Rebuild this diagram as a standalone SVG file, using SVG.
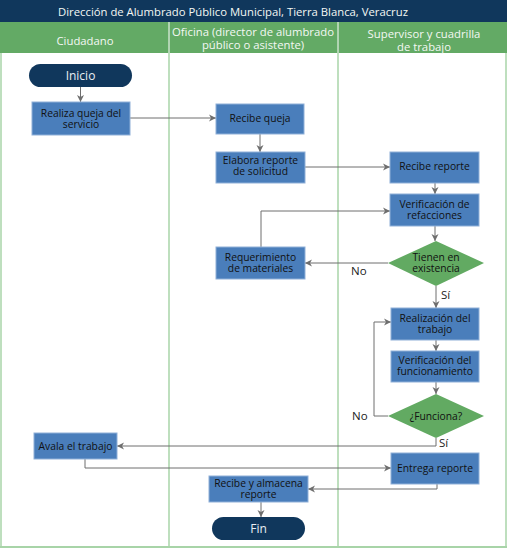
<svg xmlns="http://www.w3.org/2000/svg" width="507" height="552" viewBox="0 0 507 552">
<defs>
<marker id="ah" markerWidth="8" markerHeight="8" refX="7" refY="4" orient="auto" markerUnits="userSpaceOnUse">
<path d="M0,0.5 L7,4 L0,7.5 L2,4 Z" fill="#6e6e6e"/>
</marker>
<style>
.t{font-family:"Open Sans","Noto Sans","Liberation Sans",sans-serif}
.box{fill:#4a7ebb;stroke:#8fb0d8;stroke-width:1}
.dia{fill:#62aa62}
.term{fill:#10375c}
.nt{font-size:10.3px;fill:#111;text-anchor:middle}
.wt{font-size:12px;fill:#e8eef4;text-anchor:middle}
.ht{font-size:11.3px;fill:#f4f8f4;text-anchor:middle}
.lbl{font-size:11.5px;fill:#222}
.con{fill:none;stroke:#6e6e6e;stroke-width:1}
.lane{stroke:#a8d4a8;stroke-width:1.5}
</style>
</defs>
<rect width="507" height="552" fill="#fff"/>
<g id="frame">
<rect x="0" y="0" width="507" height="22" fill="#10375c"/>
<text class="t ht" x="233" y="16" font-size="12">Dirección de Alumbrado Público Municipal, Tierra Blanca, Veracruz</text>
<rect x="0" y="22" width="507" height="31" fill="#63aa65"/>
<line x1="169" y1="22" x2="169" y2="53" stroke="#ffffff" stroke-width="1"/>
<line x1="338" y1="22" x2="338" y2="53" stroke="#ffffff" stroke-width="1"/>
<text class="t ht" x="85" y="45">Ciudadano</text>
<text class="t ht" x="253" y="36">Oficina (director de alumbrado</text>
<text class="t ht" x="253" y="49">público o asistente)</text>
<text class="t ht" x="424" y="38">Supervisor y cuadrilla</text>
<text class="t ht" x="424" y="51">de trabajo</text>
<line class="lane" x1="1" y1="53" x2="1" y2="547"/>
<line class="lane" x1="169" y1="53" x2="169" y2="547"/>
<line class="lane" x1="338" y1="53" x2="338" y2="547"/>
<line class="lane" x1="506" y1="53" x2="506" y2="547"/>
<line x1="0" y1="547" x2="507" y2="547" stroke="#a8d4a8" stroke-width="2"/>
</g>
<g id="connectors">
<path class="con" d="M80.5,87 V102" marker-end="url(#ah)"/>
<path class="con" d="M130,118 H216" marker-end="url(#ah)"/>
<path class="con" d="M260,134 V152" marker-end="url(#ah)"/>
<path class="con" d="M305,167 H390" marker-end="url(#ah)"/>
<path class="con" d="M435,183 V194" marker-end="url(#ah)"/>
<path class="con" d="M435,226 V241" marker-end="url(#ah)"/>
<path class="con" d="M388,263 H305" marker-end="url(#ah)"/>
<path class="con" d="M261,247 V211 H390" marker-end="url(#ah)"/>
<path class="con" d="M436,286 V308" marker-end="url(#ah)"/>
<path class="con" d="M436,340 V351" marker-end="url(#ah)"/>
<path class="con" d="M436,382 V394" marker-end="url(#ah)"/>
<path class="con" d="M388,416 H374 V322 H391" marker-end="url(#ah)"/>
<path class="con" d="M436,438 V446 H117" marker-end="url(#ah)"/>
<path class="con" d="M85,459 V468 H391" marker-end="url(#ah)"/>
<path class="con" d="M437,484 V489 H308" marker-end="url(#ah)"/>
<path class="con" d="M261,502 V517" marker-end="url(#ah)"/>
<text class="t lbl" x="351" y="275">No</text>
<text class="t lbl" x="441" y="299">Sí</text>
<text class="t lbl" x="352" y="420">No</text>
<text class="t lbl" x="439" y="447">Sí</text>
</g>
<g id="inicio">
<rect class="term" x="29" y="64" width="103" height="23" rx="11.5"/>
<text class="t wt" x="80.5" y="80">Inicio</text>
</g>
<g id="realiza">
<rect class="box" x="32" y="102" width="98" height="33"/>
<text class="t nt" x="81" y="117">Realiza queja del</text>
<text class="t nt" x="81" y="128">servicio</text>
</g>
<g id="recibe-queja">
<rect class="box" x="216" y="104" width="88" height="30"/>
<text class="t nt" x="260" y="122">Recibe queja</text>
</g>
<g id="elabora">
<rect class="box" x="216" y="152" width="89" height="31"/>
<text class="t nt" x="260.5" y="164">Elabora reporte</text>
<text class="t nt" x="260.5" y="175">de solicitud</text>
</g>
<g id="recibe-reporte">
<rect class="box" x="390" y="152" width="89" height="31"/>
<text class="t nt" x="434.5" y="170">Recibe reporte</text>
</g>
<g id="verif-refacciones">
<rect class="box" x="390" y="194" width="89" height="32"/>
<text class="t nt" x="434.5" y="208">Verificación de</text>
<text class="t nt" x="434.5" y="219">refacciones</text>
</g>
<g id="tienen">
<polygon class="dia" points="436,241 484,263 436,286 388,263"/>
<text class="t nt" x="436" y="261">Tienen en</text>
<text class="t nt" x="436" y="272">existencia</text>
</g>
<g id="requerimiento">
<rect class="box" x="216" y="247" width="89" height="32"/>
<text class="t nt" x="260.5" y="261">Requerimiento</text>
<text class="t nt" x="260.5" y="272">de materiales</text>
</g>
<g id="realizacion">
<rect class="box" x="391" y="308" width="88" height="32"/>
<text class="t nt" x="435" y="322">Realización del</text>
<text class="t nt" x="435" y="333">trabajo</text>
</g>
<g id="verif-funcionamiento">
<rect class="box" x="391" y="351" width="88" height="31"/>
<text class="t nt" x="435" y="364">Verificación del</text>
<text class="t nt" x="435" y="375">funcionamiento</text>
</g>
<g id="funciona">
<polygon class="dia" points="436,394 484,416 436,438 388,416"/>
<text class="t nt" x="436" y="420">¿Funciona?</text>
</g>
<g id="avala">
<rect class="box" x="34" y="433" width="83" height="26"/>
<text class="t nt" x="75.5" y="450">Avala el trabajo</text>
</g>
<g id="entrega">
<rect class="box" x="391" y="453" width="88" height="31"/>
<text class="t nt" x="435" y="472">Entrega reporte</text>
</g>
<g id="almacena">
<rect class="box" x="209" y="476" width="99" height="26"/>
<text class="t nt" x="258.5" y="487">Recibe y almacena</text>
<text class="t nt" x="258.5" y="498">reporte</text>
</g>
<g id="fin">
<rect class="term" x="212" y="517" width="93" height="23" rx="11.5"/>
<text class="t wt" x="258.5" y="533">Fin</text>
</g>
</svg>
